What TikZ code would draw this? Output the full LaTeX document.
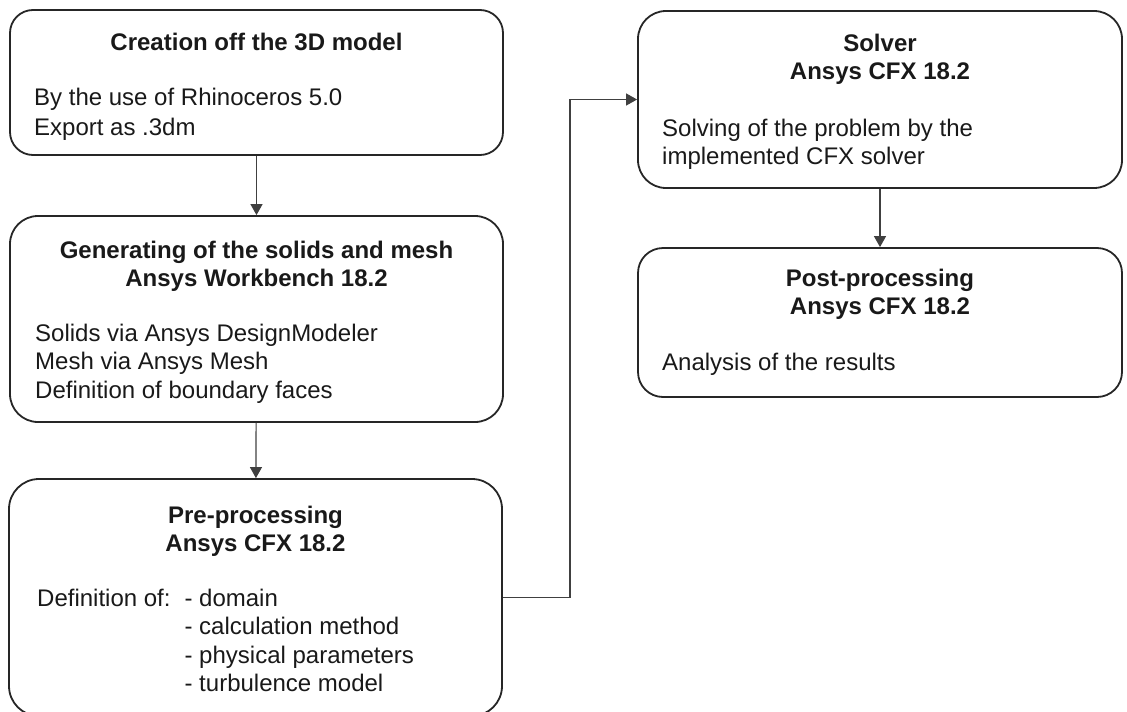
\documentclass[tikz,border=0pt]{standalone}
\usepackage{fontspec}
\setmainfont{Liberation Sans}
\usetikzlibrary{arrows.meta,positioning}

\begin{document}
\begin{tikzpicture}[x=1pt, y=-1pt,
  stage/.style={rectangle, draw=black!85, line width=1.8pt, rounded corners=25pt, inner sep=0pt, minimum width=493pt},
  head/.style={anchor=base, align=center, inner sep=0pt, text=black!90, font=\fontsize{24}{28.5}\selectfont\bfseries},
  body/.style={anchor=base west, align=left, inner sep=0pt, text=black!90, font=\fontsize{24}{28.5}\selectfont},
  flow/.style={draw=black!75, line width=1.2pt, -{Triangle[length=11pt, width=12pt]}}
]
  \useasboundingbox (0,0) rectangle (1127,712);
  \clip (0,0) rectangle (1127,712);
  % left column (text nodes sit on the baseline of their last line)
  \node[stage, minimum height=145pt, rounded corners=23pt] (model) at (256.5,82.5) {};
  \node[head] (modelhead) at (256.5,50) {Creation off the 3D model};
  \node[body, font=\fontsize{24}{30}\selectfont] (modeltext) at (34,135) {By the use of Rhinoceros 5.0\\Export as .3dm};

  \node[stage, minimum height=206pt, rounded corners=28pt] (mesh) at (256.5,319) {};
  \node[head] (meshhead) at (256.5,286.5) {Generating of the solids and mesh\\Ansys Workbench 18.2};
  \node[body] (meshtext) at (35,398) {Solids via Ansys DesignModeler\\Mesh via Ansys Mesh\\Definition of boundary faces};

  \node[stage, minimum height=237pt, rounded corners=30pt] (pre) at (255.5,597.5) {};
  \node[head] (prehead) at (255.5,551.5) {Pre-processing\\Ansys CFX 18.2};
  \node[body] (pretext) at (37,606) {\begin{tabular}[t]{@{}l@{\hspace{14pt}}l@{}}
    Definition of: & - domain\\
    & - calculation method\\
    & - physical parameters\\
    & - turbulence model
  \end{tabular}};

  % right column
  \node[stage, minimum width=484pt, minimum height=177pt, rounded corners=28pt] (solver) at (880,99.5) {};
  \node[head] (solverhead) at (880,79.5) {Solver\\Ansys CFX 18.2};
  \node[body] (solvertext) at (662,164.5) {Solving of the problem by the\\implemented CFX solver};

  \node[stage, minimum width=484pt, minimum height=149pt, rounded corners=25pt] (post) at (880,322.5) {};
  \node[head] (posthead) at (880,314.5) {Post-processing\\Ansys CFX 18.2};
  \node[body] (posttext) at (662,370) {Analysis of the results};

  % connectors
  \coordinate (bend) at (570,0);
  \draw[flow] (model) -- (mesh);
  \draw[flow] (mesh) -- (pre);
  \draw[flow] (pre.east) -- (pre.east -| bend) |- (solver.west);
  \draw[flow] (solver) -- (post);
\end{tikzpicture}
\end{document}
